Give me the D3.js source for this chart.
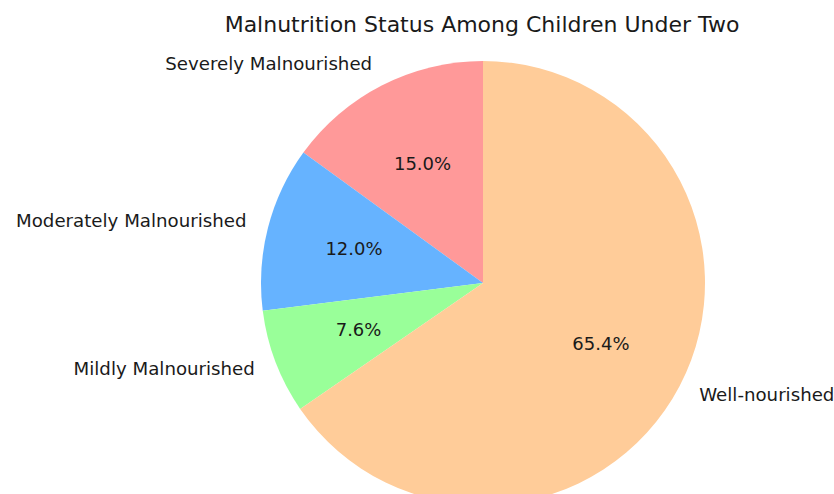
<!DOCTYPE html>
<html><head><meta charset="utf-8">
<script src="https://cdn.jsdelivr.net/npm/d3@7"></script>
<style>body{margin:0;background:#fff}svg{display:block}text{font-family:"DejaVu Sans",sans-serif;fill:#1a1a1a}</style>
</head><body><svg id="c" width="834" height="494"></svg>
<script>
const categories = ["Severely Malnourished","Moderately Malnourished","Mildly Malnourished","Well-nourished"];
const values = [15.0, 12.0, 7.6, 65.4];
const colors = ["#ff9999","#66b3ff","#99ff99","#ffcc99"];
const title = "Malnutrition Status Among Children Under Two";

const svg = d3.select("#c");
const cx = 483, cy = 283, R = 222;
svg.append("text").attr("x", 482).attr("y", 24).attr("text-anchor","middle")
  .attr("dominant-baseline","central").style("font-size","22px").text(title);

const data = categories.map((c,i)=>({cat:c, v:values[i], col:colors[i]}));
const pie = d3.pie().value(d=>d.v).sort(null).startAngle(0).endAngle(-2*Math.PI);
const arcs = pie(data);
const arc = d3.arc().innerRadius(0).outerRadius(R);
const g = svg.append("g").attr("transform",`translate(${cx},${cy})`);
g.selectAll("path").data(arcs).join("path").attr("d",arc).attr("fill",d=>d.data.col);

const total = d3.sum(values);
arcs.forEach(a=>{
  const m = (a.startAngle+a.endAngle)/2;
  const lx = Math.sin(m)*R*1.1, ly = -Math.cos(m)*R*1.1;
  g.append("text").attr("x",lx).attr("y",ly - 2).attr("text-anchor", lx<0?"end":"start")
    .attr("dominant-baseline","central").style("font-size","18.2px").text(a.data.cat);
  const px = Math.sin(m)*R*0.6, py = -Math.cos(m)*R*0.6;
  g.append("text").attr("x",px).attr("y",py - 1).attr("text-anchor","middle")
    .attr("dominant-baseline","central").style("font-size","18px")
    .text((a.data.v/total*100).toFixed(1)+"%");
});
</script></body></html>
